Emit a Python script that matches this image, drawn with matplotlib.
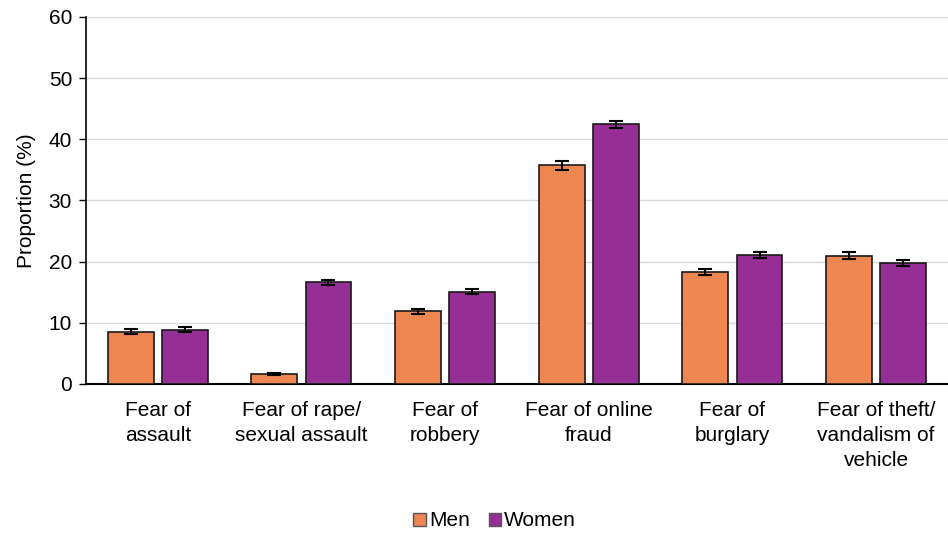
import matplotlib
matplotlib.use("Agg")
import matplotlib.pyplot as plt
import numpy as np
from matplotlib.patches import Patch

plt.rcParams['font.family'] = ['Liberation Sans', 'DejaVu Sans']

categories = ["Fear of\nassault", "Fear of rape/\nsexual assault", "Fear of\nrobbery",
              "Fear of online\nfraud", "Fear of\nburglary", "Fear of theft/\nvandalism of\nvehicle"]
men = [8.55, 1.6, 11.9, 35.75, 18.3, 21.0]
women = [8.9, 16.6, 15.1, 42.45, 21.05, 19.75]
men_err = [0.4, 0.2, 0.4, 0.7, 0.45, 0.55]
women_err = [0.4, 0.45, 0.4, 0.6, 0.5, 0.5]
series_names = ["Men", "Women"]
yticks = [0, 10, 20, 30, 40, 50, 60]

c_men = "#ED8651"
c_women = "#952F95"
FS = 15

fig = plt.figure(figsize=(9.48, 5.36), dpi=100)
ax = fig.add_axes([0.0907, 0.2836, 0.9093, 0.6847])

x = np.arange(len(categories))
w = 0.32
off = 0.188
ekw = dict(elinewidth=1.5, capthick=1.5, ecolor="black")
ax.bar(x - off, men, w, color=c_men, edgecolor="#1a1a1a", linewidth=1.2,
       yerr=men_err, capsize=5, error_kw=ekw, zorder=3)
ax.bar(x + off, women, w, color=c_women, edgecolor="#1a1a1a", linewidth=1.2,
       yerr=women_err, capsize=5, error_kw=ekw, zorder=3)

ax.set_xlim(-0.5, len(categories) - 0.5)
ax.set_ylim(0, 60)
ax.set_yticks(yticks)
ax.yaxis.grid(True, color="#D9D9D9", linewidth=1)
ax.set_axisbelow(True)
for s in ["top", "right"]:
    ax.spines[s].set_visible(False)
ax.spines["left"].set_linewidth(1.2)
ax.spines["bottom"].set_linewidth(1.5)
ax.set_xticks(x)
ax.set_xticklabels(categories, fontsize=FS, linespacing=1.4)
ax.tick_params(axis="x", length=0, pad=12)
ax.tick_params(axis="y", labelsize=FS, length=5, width=1, direction="out", pad=5)
ax.set_ylabel("Proportion (%)", fontsize=FS, labelpad=9)

handles = [Patch(facecolor=c_men, edgecolor="#555555"), Patch(facecolor=c_women, edgecolor="#555555")]
fig.legend(handles, series_names, loc="center", bbox_to_anchor=(0.522, 0.028), ncol=2,
           frameon=False, fontsize=FS, handlelength=0.6, handleheight=0.6,
           handletextpad=0.15, columnspacing=0.9)

fig.savefig("out.png", dpi=100)
